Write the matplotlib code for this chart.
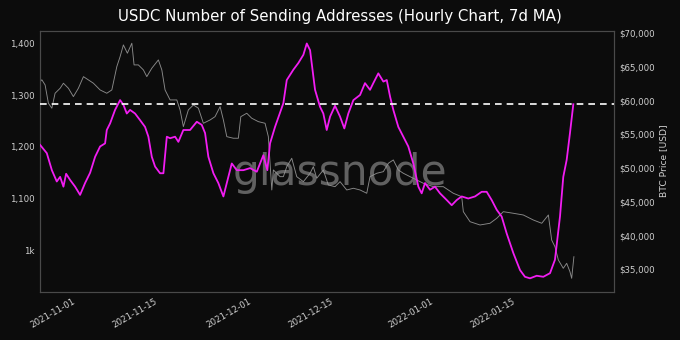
import numpy as np
import pandas as pd
import matplotlib
matplotlib.use("Agg")
import matplotlib.pyplot as plt
import matplotlib.dates as mdates
from matplotlib.ticker import FuncFormatter

# series start
start = pd.Timestamp("2021-10-25 19:00")

# USDC sending addresses (7d MA): days since start, value
addr_days = [0, 1.14, 2.00, 2.84, 3.41, 3.97, 4.43, 5.11, 5.96, 6.81, 7.66, 8.52,
             9.37, 10.22, 11.07, 11.36, 11.93, 12.77, 13.63, 14.19, 14.77, 15.33,
             16.18, 17.04, 17.88, 18.45, 19.03, 19.59, 20.44, 21.01, 21.59, 22.15,
             23.00, 23.56, 24.41, 25.55, 26.70, 27.54, 28.11, 28.67, 29.53, 30.37,
             31.23, 31.81, 32.66, 33.51, 34.64, 35.78, 36.92, 38.04, 38.72, 39.18,
             40.03, 41.45, 42.03, 43.15, 44.00, 44.86, 45.44, 46.00, 46.85, 47.70,
             48.26, 48.84, 49.41, 50.25, 51.11, 51.84, 52.52, 53.38, 54.52, 55.36,
             56.22, 56.78, 57.63, 58.49, 59.07, 59.63, 60.19, 61.04, 61.89, 62.74,
             63.60, 64.45, 65.02, 65.59, 66.44, 67.29, 68.15, 69.29, 70.14, 70.99,
             71.84, 72.96, 74.11, 75.25, 76.10, 76.95, 77.81, 78.65, 79.51,
             80.64, 81.78, 82.62, 83.48, 84.62, 85.75, 86.89, 87.73, 88.59,
             89.15, 89.73, 90.29, 90.86]
addr_vals = [1204, 1188, 1155, 1133, 1142, 1123, 1148, 1136, 1123, 1107, 1130, 1150,
             1181, 1201, 1207, 1233, 1246, 1272, 1291, 1282, 1265, 1272,
             1265, 1252, 1239, 1220, 1181, 1162, 1149, 1149, 1220, 1217,
             1220, 1210, 1233, 1233, 1249, 1243, 1227, 1181, 1149, 1130,
             1104, 1130, 1168, 1155, 1155, 1159, 1152, 1184, 1155, 1207,
             1239, 1285, 1330, 1350, 1363, 1379, 1401, 1388, 1311, 1278,
             1265, 1233, 1259, 1280, 1259, 1236, 1265, 1291, 1301, 1324,
             1311, 1324, 1343, 1327, 1330, 1298, 1272, 1239, 1220, 1201,
             1168, 1123, 1110, 1130, 1117, 1123, 1110, 1097, 1087, 1097,
             1104, 1100, 1104, 1113, 1113, 1097, 1078, 1065, 1032,
             994, 961, 948, 945, 950, 948, 955, 981, 1065,
             1142, 1175, 1227, 1283]

# BTC price (USD): days since start, value
btc_days = [0, 0.29, 0.85, 1.41, 2.00, 2.55, 3.41, 3.97, 4.82, 5.67, 6.52, 7.38,
            8.23, 9.08, 10.22, 11.36, 12.22, 13.07, 13.63, 14.19, 14.87, 15.63,
            16.01, 16.74, 17.60, 18.18, 19.03, 20.15, 20.74, 21.29, 22.15, 23.29,
            23.85, 24.41, 25.26, 26.12, 26.97, 27.82, 28.96, 29.81, 30.67, 31.23,
            31.81, 32.93, 33.78, 34.20, 35.21, 36.06, 37.19, 38.33, 38.89, 39.48,
            39.75, 40.32, 40.89, 41.45, 42.03, 42.88, 43.73, 44.86, 46.00, 46.56,
            47.14, 48.26, 49.11, 50.25, 51.11, 52.25, 53.38, 54.52, 55.66, 56.22,
            57.36, 58.49, 59.34, 60.19, 61.04, 61.89, 63.04, 64.18, 65.30, 67.01,
            68.71, 70.41, 71.84, 72.12, 73.26, 74.96, 76.66, 77.81, 78.93, 80.64,
            82.34, 84.04, 85.48, 86.61, 87.17, 87.73, 88.31, 89.15, 89.73,
            90.29, 90.58, 90.96]
btc_vals = [62800, 63100, 62330, 59620, 58880, 61100, 61840, 62585, 61840, 60600, 61840, 63560,
            63075, 62585, 61590, 61100, 61590, 65047, 66530, 68265, 67034, 68517,
            65300, 65300, 64557, 63564, 64810, 66040, 64557, 61590, 60108, 60108,
            58625, 56150, 58625, 59367, 58880, 56650, 57140, 57630, 59115, 57140,
            54666, 54430, 54430, 57630, 58136, 57395, 56890, 56650, 54666, 46760,
            49727, 49238, 48734, 48734, 50217, 51462, 48734, 47992, 49238, 50217,
            48496, 49727, 47503, 47250, 47992, 46760, 47014, 46760, 46272, 48734,
            49238, 49475, 50721, 51211, 49727, 49238, 48734, 48244, 47755, 47250,
            47250, 46272, 45767, 43542, 42060, 41571, 41823, 42565, 43542, 43306,
            43053, 42312, 41823, 43053, 39347, 38353, 36380, 35150, 35890,
            34645, 33667, 36870]

x_ticks = ["2021-11-01", "2021-11-15", "2021-12-01", "2021-12-15", "2022-01-01", "2022-01-15"]
left_ticks = [1000, 1100, 1200, 1300, 1400]
right_ticks = [35000, 40000, 45000, 50000, 55000, 60000, 65000, 70000]

addr_t = start + pd.to_timedelta(addr_days, unit="D")
btc_t = start + pd.to_timedelta(btc_days, unit="D")

bg = "#0c0c0c"
txt = "#d0d0d0"

fig = plt.figure(figsize=(6.8, 3.4), dpi=100, facecolor=bg)
ax = fig.add_axes([0.059, 0.142, 0.844, 0.768])
ax.set_facecolor(bg)
ax2 = ax.twinx()

ax2.plot(btc_t, btc_vals, color="#8a8a8a", lw=0.65, zorder=2)
ax.plot(addr_t, addr_vals, color="#f21df2", lw=1.3, zorder=3)
ax.axhline(addr_vals[-1], color="white", lw=1.2, ls=(0, (4, 3)), zorder=4)

ax.set_zorder(ax2.get_zorder() + 1)
ax.patch.set_visible(False)
ax2.set_facecolor(bg)

ax.set_xlim(start, start + pd.Timedelta(days=97.8))
ax.set_ylim(919, 1426)
ax2.set_ylim(31678, 70386)

ax.set_xticks(pd.to_datetime(x_ticks))
ax.xaxis.set_major_formatter(mdates.DateFormatter("%Y-%m-%d"))
plt.setp(ax.get_xticklabels(), rotation=30, ha="right")

ax.set_yticks(left_ticks)
ax.yaxis.set_major_formatter(FuncFormatter(lambda v, p: "1k" if v == 1000 else f"{v:,.0f}"))
ax2.set_yticks(right_ticks)
ax2.yaxis.set_major_formatter(FuncFormatter(lambda v, p: f"${v:,.0f}"))

for a in (ax, ax2):
    a.tick_params(colors=txt, labelsize=6.2, length=0, pad=4)
    for s in a.spines.values():
        s.set_color("#4a4a4a")
        s.set_linewidth(0.8)

ax2.set_ylabel("BTC Price [USD]", color=txt, fontsize=6.6, labelpad=3)
fig.suptitle("USDC Number of Sending Addresses (Hourly Chart, 7d MA)",
             color="white", fontsize=10.8, x=0.5, y=0.975)

ax.text(0.523, 0.455, "glassnode", transform=ax.transAxes, ha="center", va="center",
        fontsize=30.5, color="#9a9a9a", alpha=0.6, zorder=1)

fig.savefig("out.png", dpi=100, facecolor=bg)
